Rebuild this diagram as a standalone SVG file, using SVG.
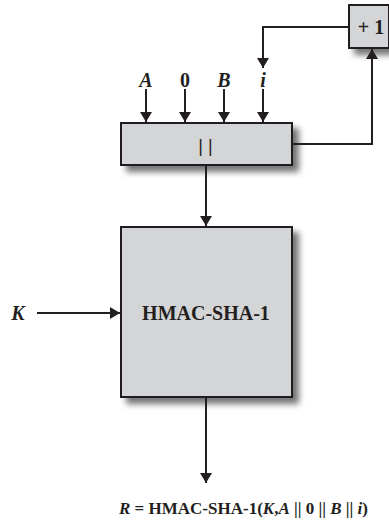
<svg xmlns="http://www.w3.org/2000/svg" width="389" height="521" viewBox="0 0 389 521">
<defs>
<filter id="sh" x="-20%" y="-20%" width="150%" height="150%">
<feGaussianBlur in="SourceAlpha" stdDeviation="3"/>
<feOffset dx="6" dy="6" result="b"/>
<feComponentTransfer><feFuncA type="linear" slope="0.55"/></feComponentTransfer>
<feMerge><feMergeNode/><feMergeNode in="SourceGraphic"/></feMerge>
</filter>
<marker id="ah" markerWidth="10" markerHeight="12" refX="10" refY="6" orient="auto" markerUnits="userSpaceOnUse">
<path d="M0,0 L10,6 L0,12 Z" fill="#231f20"/>
</marker>
</defs>
<style>
.box{fill:#d4d5d7;stroke:#231f20;stroke-width:2}
.ln{fill:none;stroke:#231f20;stroke-width:2}
.t{font-family:"Liberation Serif","Times New Roman",serif;font-weight:bold;fill:#231f20}
.it{font-style:italic}
</style>
<g id="plus1">
<rect class="box" x="349" y="5" width="40" height="43" filter="url(#sh)"/>
<text class="t" x="371" y="34" font-size="20" text-anchor="middle">+ 1</text>
</g>
<g id="concat">
<rect class="box" x="121" y="123" width="171" height="42" filter="url(#sh)"/>
<text x="208" y="152" font-family="Liberation Sans, Arial, sans-serif" font-size="18" fill="#231f20" text-anchor="middle" letter-spacing="5">||</text>
</g>
<g id="hmac">
<rect class="box" x="121" y="227" width="171" height="170" filter="url(#sh)"/>
<text class="t" x="206" y="320" font-size="20" text-anchor="middle">HMAC-SHA-1</text>
</g>
<g id="labels">
<text class="t it" x="146" y="87" font-size="20" text-anchor="middle">A</text>
<text class="t" x="185" y="87" font-size="20" text-anchor="middle">0</text>
<text class="t it" x="224" y="87" font-size="20" text-anchor="middle">B</text>
<text class="t it" x="263" y="87" font-size="20" text-anchor="middle">i</text>
<text class="t it" x="18" y="320" font-size="20" text-anchor="middle">K</text>
<text class="t" x="119" y="514" font-size="17"><tspan class="it">R</tspan> = HMAC-SHA-1(<tspan class="it">K</tspan>,<tspan class="it">A</tspan> || 0 || <tspan class="it">B</tspan> || <tspan class="it">i</tspan>)</text>
</g>
<g id="connectors">
<path class="ln" d="M146,89 V122" marker-end="url(#ah)"/>
<path class="ln" d="M185,89 V122" marker-end="url(#ah)"/>
<path class="ln" d="M224,89 V122" marker-end="url(#ah)"/>
<path class="ln" d="M263,89 V122" marker-end="url(#ah)"/>
<path class="ln" d="M349,27 H263 V68" marker-end="url(#ah)"/>
<path class="ln" d="M292,144 H372 V49" marker-end="url(#ah)"/>
<path class="ln" d="M206,165 V226" marker-end="url(#ah)"/>
<path class="ln" d="M37,313 H120" marker-end="url(#ah)"/>
<path class="ln" d="M206,397 V483" marker-end="url(#ah)"/>
</g>
</svg>
